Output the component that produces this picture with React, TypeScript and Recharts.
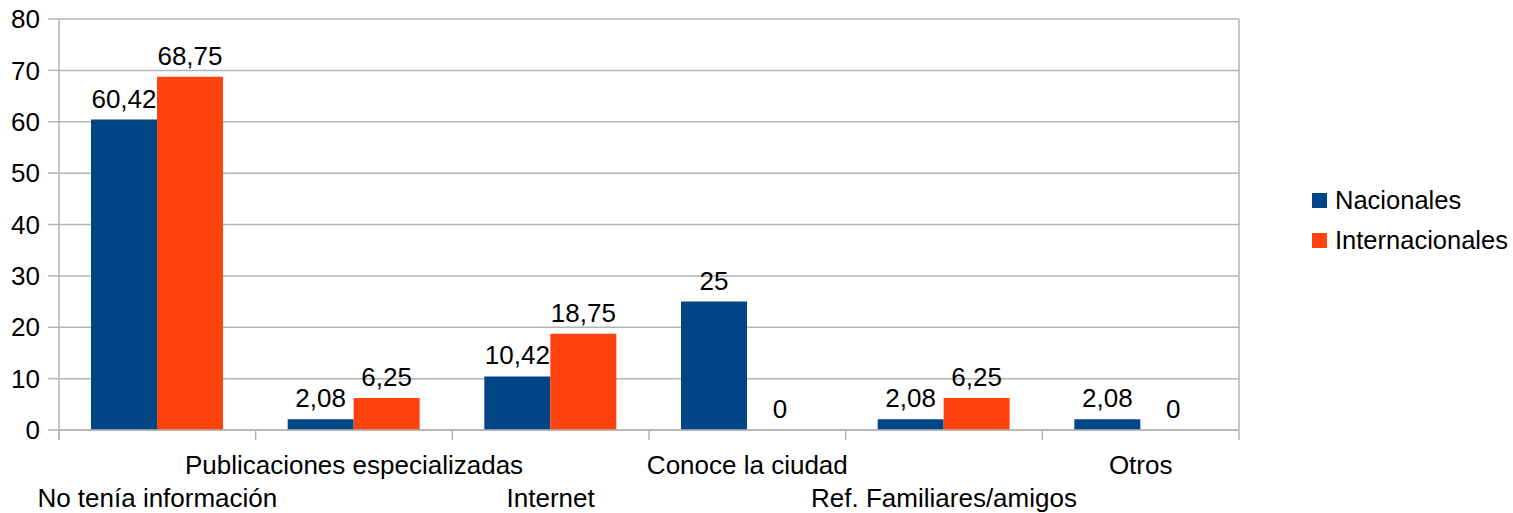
import React from 'react';
import { BarChart, Bar, XAxis, YAxis, CartesianGrid, LabelList } from 'recharts';

const categories = [
  'No tenía información',
  'Publicaciones especializadas',
  'Internet',
  'Conoce la ciudad',
  'Ref. Familiares/amigos',
  'Otros',
];
const nacionales = [60.42, 2.08, 10.42, 25, 2.08, 2.08];
const internacionales = [68.75, 6.25, 18.75, 0, 6.25, 0];
const yTicks = [0, 10, 20, 30, 40, 50, 60, 70, 80];

const BLUE = '#004586';
const ORANGE = '#ff420e';
const GRID = '#b3b3b3';
const FONT = '"Liberation Sans", Arial, sans-serif';
const FS = 26;

const data = categories.map((name, i) => ({
  name,
  nacionales: nacionales[i],
  internacionales: internacionales[i],
}));

const W = 1513;
const H = 513;
const margin = { top: 19, right: 274, bottom: 0, left: 0 };
const plotWidth = W - margin.right - 59;
const band = plotWidth / categories.length;

const fmt = (v: any) => String(v).replace('.', ',');

// value label above each bar, also drawn when the value is 0
const ValueLabel = (props: any) => {
  const { x, y, width, height, value } = props;
  if (value === undefined || value === null) return null;
  const top = Math.min(Number(y), Number(y) + Number(height || 0));
  return (
    <text x={Number(x) + Number(width) / 2} y={top - 12} textAnchor="middle" fontSize={FS} fontFamily={FONT} fill="#000">
      {fmt(value)}
    </text>
  );
};

const CategoryTick = (props: any) => {
  const { x, y, payload, index } = props;
  const upper = index % 2 === 1;
  const last = index === categories.length - 1;
  return (
    <g>
      <line x1={x - band / 2} y1={y} x2={x - band / 2} y2={y + 10} stroke={GRID} strokeWidth={1.5} />
      {last && <line x1={x + band / 2} y1={y} x2={x + band / 2} y2={y + 10} stroke={GRID} strokeWidth={1.5} />}
      <text x={x} y={y + (upper ? 44 : 77)} textAnchor="middle" fontSize={FS} fontFamily={FONT} fill="#000">
        {payload.value}
      </text>
    </g>
  );
};

const LegendBox = () => (
  <div style={{ fontFamily: FONT, fontSize: 25.5, color: '#000' }}>
    {[
      { label: 'Nacionales', color: BLUE },
      { label: 'Internacionales', color: ORANGE },
    ].map((item) => (
      <div key={item.label} style={{ display: 'flex', alignItems: 'center', height: 40 }}>
        <span style={{ display: 'inline-block', width: 15, height: 15, background: item.color, marginRight: 8 }} />
        <span>{item.label}</span>
      </div>
    ))}
  </div>
);

export default function App() {
  return (
    <div style={{ position: 'absolute', left: 0, top: 0, width: W, height: H, background: '#fff', fontFamily: FONT }}>
      <BarChart width={W} height={H} data={data} margin={margin} barSize={66} barGap={0}>
        <CartesianGrid
          stroke={GRID}
          strokeWidth={1.5}
          vertical={true}
          verticalCoordinatesGenerator={({ offset }: any) => [offset.left + offset.width]}
        />
        <XAxis
          dataKey="name"
          interval={0}
          height={83}
          axisLine={{ stroke: GRID, strokeWidth: 1.5 }}
          tickLine={false}
          tickSize={0}
          tickMargin={0}
          tick={<CategoryTick />}
        />
        <YAxis
          width={59}
          domain={[0, 80]}
          ticks={yTicks}
          interval={0}
          tickSize={11}
          tickMargin={8}
          axisLine={{ stroke: GRID, strokeWidth: 1.5 }}
          tickLine={{ stroke: GRID, strokeWidth: 1.5 }}
          tick={{ fontSize: FS, fontFamily: FONT, fill: '#000' }}
        />
        <Bar dataKey="nacionales" fill={BLUE} minPointSize={0.01} isAnimationActive={false}>
          <LabelList dataKey="nacionales" content={<ValueLabel />} />
        </Bar>
        <Bar dataKey="internacionales" fill={ORANGE} minPointSize={0.01} isAnimationActive={false}>
          <LabelList dataKey="internacionales" content={<ValueLabel />} />
        </Bar>
      </BarChart>
      <div style={{ position: 'absolute', left: 1312, top: 180 }}>
        <LegendBox />
      </div>
      <svg style={{ position: 'absolute', left: 0, top: 0, pointerEvents: 'none' }} width={W} height={H}>
        <line x1={59} y1={430} x2={59} y2={440} stroke={GRID} strokeWidth={1.5} />
      </svg>
    </div>
  );
}
